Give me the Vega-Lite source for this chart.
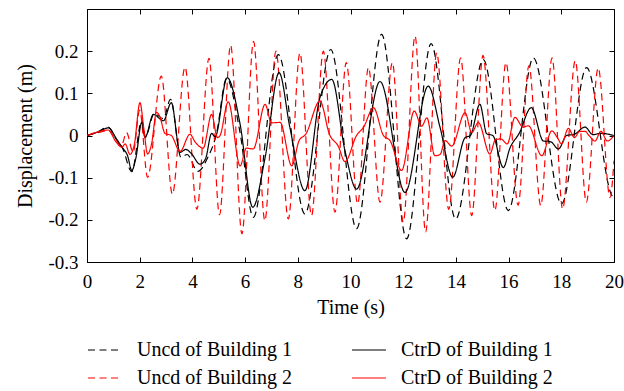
{
  "$schema": "https://vega.github.io/schema/vega-lite/v6.json",
  "width": 527,
  "height": 253,
  "autosize": {"type": "none"},
  "padding": {"left": 87, "top": 9, "right": 10, "bottom": 129},
  "background": "white",
  "config": {
    "font": "Liberation Serif",
    "view": {"stroke": "black", "strokeWidth": 1},
    "axis": {
      "grid": false,
      "domainColor": "black",
      "tickColor": "black",
      "labelColor": "black",
      "titleColor": "black",
      "labelFontSize": 19,
      "titleFontSize": 20,
      "titleFontWeight": "normal",
      "tickSize": -5,
      "domainWidth": 1,
      "tickWidth": 1
    },
    "legend": {"labelFontSize": 20, "labelColor": "black"}
  },
  "data": {
    "values": [
      {"s": "Uncd of Building 1",
       "t": [0,0.4,0.8,1.1,1.35,1.7,2.08,2.22,2.55,2.9,3.17,3.57,3.8,4.2,4.6,4.9,5.3,5.8,6.31,7.26,8.27,9.25,10.23,11.18,12.13,13.06,13.99,15.04,15.99,16.94,18.01,18.96,19.9,20],
       "v": [0,0.008,0.02,-0.008,-0.03,-0.086,0.036,-0.003,0.052,0.04,0.086,-0.052,-0.045,-0.085,-0.05,0.0,0.135,0.01,-0.194,0.192,-0.186,0.204,-0.221,0.24,-0.245,0.218,-0.198,0.18,-0.178,0.184,-0.162,0.161,-0.14,-0.15]},
      {"s": "Uncd of Building 2",
       "t": [0,0.5,0.8,1.1,1.3,1.5,1.75,2.0,2.3,2.82,3.24,3.72,4.17,4.63,5.03,5.45,5.88,6.32,6.75,7.17,7.64,8.08,8.52,8.97,9.41,9.84,10.27,10.68,11.12,11.59,12.0,12.45,12.85,13.27,13.73,14.18,14.6,15.03,15.48,15.9,16.36,16.77,17.22,17.65,18.05,18.53,18.95,19.4,19.85,20],
       "v": [0,0.008,0.012,-0.01,-0.025,0.007,-0.04,0.06,-0.099,0.141,-0.139,0.162,-0.175,0.183,-0.188,0.214,-0.233,0.223,-0.202,0.2,-0.198,0.196,-0.19,0.2,-0.182,0.173,-0.162,0.161,-0.158,0.173,-0.206,0.236,-0.229,0.196,-0.175,0.184,-0.19,0.19,-0.178,0.173,-0.165,0.165,-0.166,0.184,-0.174,0.177,-0.158,0.16,-0.147,-0.06]},
      {"s": "CtrD of Building 1",
       "t": [0,0.4,0.81,1.13,1.32,1.54,1.7,1.85,2.08,2.2,2.52,2.9,3.2,3.53,3.75,3.95,4.29,4.5,4.73,4.86,5.32,5.81,6.29,6.76,7.29,7.7,8.27,8.84,9.29,9.79,10.23,11.12,12.07,12.95,13.4,13.88,14.35,14.55,14.91,15.17,15.4,15.8,16.05,16.4,16.86,17.32,17.6,17.89,18.2,18.5,18.9,19.2,19.5,20],
       "v": [0,0.008,0.018,-0.009,-0.027,-0.048,-0.083,-0.055,0.031,-0.005,0.05,0.035,0.078,-0.04,-0.033,-0.042,-0.068,-0.055,0.005,-0.003,0.137,0.027,-0.17,-0.052,0.149,0.019,-0.131,0.09,0.133,-0.036,-0.127,0.128,-0.135,0.117,0.019,-0.099,-0.005,0.0,0.074,0.004,0.0,-0.076,-0.03,0.005,0.066,-0.013,-0.015,-0.032,0.0,0.003,0.02,0.002,0.005,0.0]},
      {"s": "CtrD of Building 2",
       "t": [0,0.5,0.8,1.1,1.32,1.45,1.63,1.8,2.01,2.15,2.3,2.45,2.64,2.75,2.96,3.2,3.53,3.91,4.1,4.41,4.73,4.95,5.05,5.36,5.81,6.05,6.31,6.76,7.0,7.33,7.77,8.05,8.3,8.84,9.2,9.54,9.79,10.23,10.5,10.87,11.25,11.5,11.94,12.42,12.7,12.9,13.2,13.4,13.59,13.84,14.35,14.6,14.85,15.29,15.5,15.7,15.95,16.24,16.55,16.75,17.26,17.64,17.85,18.01,18.27,18.5,18.7,18.9,19.05,19.28,19.5,19.75,20],
       "v": [0,0.01,0.013,-0.015,-0.028,-0.02,-0.045,-0.02,0.078,0.02,-0.044,-0.02,0.055,0.047,0.005,0.0,-0.038,0.003,-0.015,-0.03,0.05,-0.005,0.0,0.08,-0.072,-0.03,-0.032,0.074,0.03,0.031,-0.072,-0.012,0.003,0.082,0.003,-0.026,-0.062,0.0,0.02,0.066,0.0,-0.012,-0.083,0.058,0.022,0.042,-0.048,-0.045,-0.012,-0.025,0.054,0.007,0.031,-0.044,-0.01,-0.008,-0.02,0.043,0.02,0.023,-0.048,0.011,-0.005,-0.02,0.017,-0.005,0.01,0.01,0.0,-0.013,0.01,-0.013,0.0]}
    ]
  },
  "transform": [{"flatten": ["t", "v"]}],
  "layer": [
    {
      "mark": {"type": "line", "interpolate": "monotone", "strokeWidth": 1.2, "clip": true},
      "encoding": {
        "x": {"field": "t", "type": "quantitative",
              "scale": {"domain": [0, 20], "nice": false, "zero": false},
              "axis": {"orient": "bottom", "title": "Time (s)", "values": [0,2,4,6,8,10,12,14,16,18,20], "labelPadding": 15, "titlePadding": 6, "labelFlush": false}},
        "y": {"field": "v", "type": "quantitative",
              "scale": {"domain": [-0.3, 0.3], "nice": false, "zero": false},
              "axis": {"orient": "left", "title": "Displacement (m)", "values": [-0.3,-0.2,-0.1,0,0.1,0.2], "labelPadding": 14, "titleX": -52, "titleY": 126.5,
                       "labelExpr": "datum.value < 0 ? '-' + format(-datum.value, '.1~f') : format(datum.value, '.1~f')"}},
        "color": {"field": "s", "type": "nominal",
                  "scale": {"domain": ["Uncd of Building 1", "Uncd of Building 2", "CtrD of Building 1", "CtrD of Building 2"], "range": ["#000000", "#ff0000", "#000000", "#ff0000"]},
                  "legend": {"title": null, "orient": "none", "legendX": 0, "legendY": 323, "columns": 2, "symbolType": "stroke", "symbolSize": 1156, "symbolStrokeWidth": 1.2, "labelOffset": 14, "columnPadding": 57, "rowPadding": -7, "labelFontSize": 20}},
        "strokeDash": {"field": "s", "type": "nominal",
                  "scale": {"domain": ["Uncd of Building 1", "Uncd of Building 2", "CtrD of Building 1", "CtrD of Building 2"], "range": [[7,4.5],[7,4.5],[1,0],[1,0]]},
                  "legend": {"title": null, "orient": "none", "legendX": 0, "legendY": 323, "columns": 2, "symbolType": "stroke", "symbolSize": 1156, "symbolStrokeWidth": 1.2, "labelOffset": 14, "columnPadding": 57, "rowPadding": -7, "labelFontSize": 20}}
      }
    },
    {
      "mark": {"type": "point", "opacity": 0},
      "encoding": {
        "x": {"field": "t", "type": "quantitative", "scale": {"domain": [0, 20], "nice": false, "zero": false},
              "axis": {"orient": "top", "title": null, "labels": false, "values": [0,2,4,6,8,10,12,14,16,18,20]}},
        "y": {"field": "v", "type": "quantitative", "scale": {"domain": [-0.3, 0.3], "nice": false, "zero": false},
              "axis": {"orient": "right", "title": null, "labels": false, "values": [-0.3,-0.2,-0.1,0,0.1,0.2]}}
      }
    }
  ],
  "resolve": {"axis": {"x": "independent", "y": "independent"}}
}
